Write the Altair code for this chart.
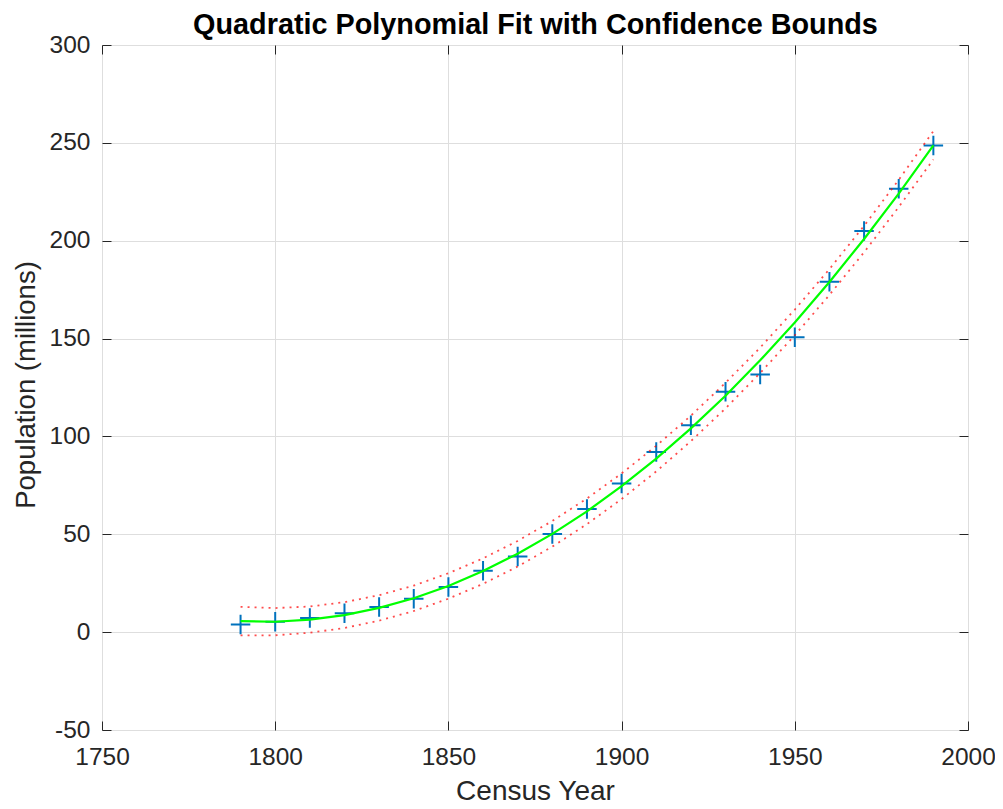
import altair as alt
import pandas as pd

# ---- data ----
years = [1790, 1800, 1810, 1820, 1830, 1840, 1850, 1860, 1870, 1880, 1890,
         1900, 1910, 1920, 1930, 1940, 1950, 1960, 1970, 1980, 1990]
population = [3.9, 5.3, 7.2, 9.6, 12.9, 17.1, 23.1, 31.4, 38.6, 50.2, 62.9,
              76.0, 92.0, 105.7, 122.8, 131.7, 150.7, 179.0, 205.0, 226.5, 248.7]
fit_values = [5.6, 5.3, 6.4, 8.7, 12.4, 17.3, 23.6, 31.2, 40.1, 50.2, 61.7,
              74.6, 88.7, 104.1, 120.8, 138.9, 158.2, 178.9, 200.9, 224.1, 248.7]
lower_bound = [-1.7, -1.6, -0.3, 2.1, 5.9, 10.8, 17.1, 24.7, 33.5, 43.7, 55.2,
               68.0, 82.1, 97.6, 114.3, 132.4, 151.7, 172.3, 194.1, 217.2, 241.5]
upper_bound = [12.9, 12.3, 13.1, 15.3, 18.9, 23.8, 30.1, 37.7, 46.6, 56.8, 68.3,
               81.1, 95.2, 110.6, 127.4, 145.4, 164.8, 185.5, 207.6, 231.1, 256.0]
x_ticks = [1750, 1800, 1850, 1900, 1950, 2000]
y_ticks = [-50, 0, 50, 100, 150, 200, 250, 300]
title_text = "Quadratic Polynomial Fit with Confidence Bounds"

FONT = "Liberation Sans"
INK = "#262626"
GRID = "#dedede"
W, H = 866, 685
TICK = 9

pts_df = pd.DataFrame({"year": years, "pop": population})
fit_df = pd.DataFrame({"year": years, "fit": fit_values})
bnd_df = pd.concat([
    pd.DataFrame({"year": years, "bound": lower_bound, "which": "lower"}),
    pd.DataFrame({"year": years, "bound": upper_bound, "which": "upper"}),
])

xs = alt.Scale(domain=[1750, 2000], nice=False, zero=False)
ys = alt.Scale(domain=[-50, 300], nice=False, zero=False)

# main axes with labels + grid
ax_x_main = alt.Axis(values=x_ticks, orient="bottom", labelExpr="toString(datum.value)",
                     title="Census Year",
                     grid=True, gridColor=GRID, gridWidth=1, ticks=False, domain=False,
                     labelFont=FONT, labelFontSize=24.5, labelColor=INK,
                     labelPadding=34, labelBaseline="alphabetic", labelFlush=False,
                     labelOverlap=False,
                     titleFont=FONT, titleFontSize=28, titleColor=INK, titleFontWeight="normal",
                     titleX=W / 2, titleY=69, titleBaseline="alphabetic")
ax_y_main = alt.Axis(values=y_ticks, orient="left", labelExpr="toString(datum.value)",
                     title="Population (millions)",
                     grid=True, gridColor=GRID, gridWidth=1, ticks=False, domain=False,
                     labelFont=FONT, labelFontSize=24.5, labelColor=INK,
                     labelPadding=12, labelFlush=False, labelOverlap=False,
                     titleFont=FONT, titleFontSize=27.5, titleColor=INK, titleFontWeight="normal",
                     titleX=-62, titleY=H / 2 - 3, titleBaseline="bottom", titleAngle=270)

def tick_axis(vals, orient):
    return alt.Axis(values=vals, orient=orient, title=None, labels=False, domain=False,
                    grid=False, ticks=True, tickSize=TICK, tickColor=INK, tickWidth=1,
                    offset=-TICK)

# top inward-tick axis also carries the chart title text
ax_x_top = alt.Axis(values=x_ticks, orient="top", title=title_text, labels=False,
                    domain=False, grid=False, ticks=True, tickSize=TICK, tickColor=INK,
                    tickWidth=1, offset=-TICK,
                    titleFont=FONT, titleFontSize=28.8, titleFontWeight="bold",
                    titleColor="#000000", titleX=W / 2, titleY=-12 - TICK,
                    titleBaseline="alphabetic")

cross = "M-1,0L1,0M0,-1L0,1"
points = alt.Chart(pts_df).mark_point(
    shape=cross, size=380, filled=False, stroke="#0072BD", strokeWidth=2, opacity=1
).encode(
    x=alt.X("year:Q", scale=xs, axis=ax_x_main),
    y=alt.Y("pop:Q", scale=ys, axis=ax_y_main),
)

fit_line = alt.Chart(fit_df).mark_line(color="#00FF00", strokeWidth=2.2).encode(
    x=alt.X("year:Q", scale=xs, axis=tick_axis(x_ticks, "bottom")),
    y=alt.Y("fit:Q", scale=ys, axis=tick_axis(y_ticks, "left")),
)

bounds = alt.Chart(bnd_df).mark_line(
    color="#FF0000", strokeWidth=1.8, strokeDash=[2, 5], opacity=0.7
).encode(
    x=alt.X("year:Q", scale=xs, axis=ax_x_top),
    y=alt.Y("bound:Q", scale=ys, axis=tick_axis(y_ticks, "right")),
    detail="which:N",
)

chart = alt.layer(points, fit_line, bounds).resolve_axis(
    x="independent", y="independent"
).properties(
    width=W, height=H,
    autosize=alt.AutoSizeParams(type="none"),
    padding={"left": 94, "top": 37, "right": 27, "bottom": 76},
).configure_view(
    stroke=INK, strokeWidth=1.3
).configure(background="white")

chart.save("out.html", embed_options={"renderer": "svg", "actions": False})
